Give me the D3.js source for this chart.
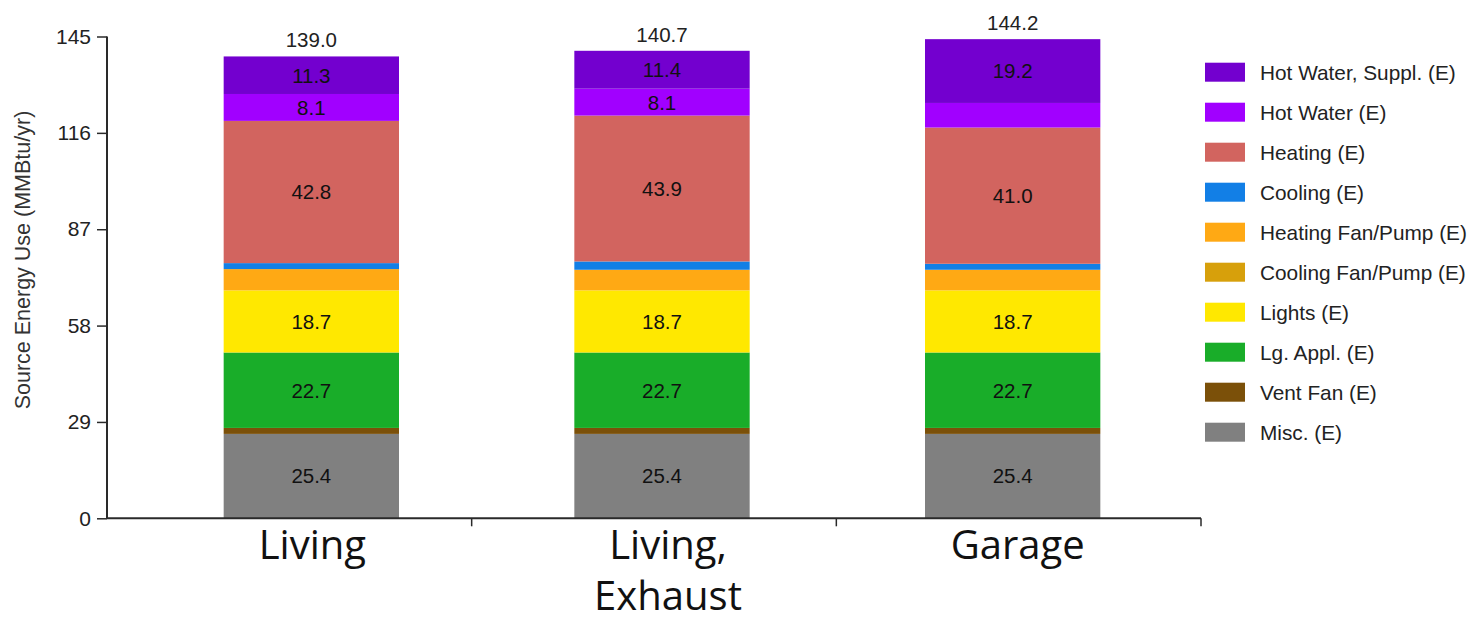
<!DOCTYPE html>
<html>
<head>
<meta charset="utf-8">
<script src="https://cdn.jsdelivr.net/npm/d3@7"></script>
<style>
  html, body { margin: 0; padding: 0; background: #fff; }
  svg { display: block; }
</style>
</head>
<body>
<svg id="chart" width="1480" height="622"></svg>
<script>
// Source energy use by end use, for three duct locations (MMBtu/yr)
const categories = ["Living", "Living, Exhaust", "Garage"];
const categoryLines = [["Living"], ["Living,", "Exhaust"], ["Garage"]];

// End uses, bottom of stack first
const endUses = [
  "Misc. (E)", "Vent Fan (E)", "Lg. Appl. (E)", "Lights (E)",
  "Cooling Fan/Pump (E)", "Heating Fan/Pump (E)", "Cooling (E)",
  "Heating (E)", "Hot Water (E)", "Hot Water, Suppl. (E)"
];
const colors = [
  "#808080", "#7b5009", "#19ad29", "#ffe800",
  "#d7a00b", "#ffa914", "#127fe6",
  "#d2645f", "#a100ff", "#7300cf"
];

// Values per end use, one per category
const misc        = [25.4, 25.4, 25.4];
const ventFan     = [1.8, 1.8, 1.8];
const lgAppl      = [22.7, 22.7, 22.7];
const lights      = [18.7, 18.7, 18.7];
const coolingFan  = [0.0, 0.0, 0.0];
const heatingFan  = [6.4, 6.2, 6.2];
const cooling     = [1.8, 2.5, 1.8];
const heating     = [42.8, 43.9, 41.0];
const hotWater    = [8.1, 8.1, 7.4];
const hotWaterSup = [11.3, 11.4, 19.2];

const yTicks = [0, 29, 58, 87, 116, 145];
const yMax = 145;
const labelMin = 8; // segments smaller than this are left unlabelled

const seriesValues = [misc, ventFan, lgAppl, lights, coolingFan, heatingFan, cooling, heating, hotWater, hotWaterSup];

const rows = categories.map((c, i) => {
  const r = { category: c };
  endUses.forEach((u, k) => { r[u] = seriesValues[k][i]; });
  return r;
});

const svg = d3.select("#chart");
const font = "'Liberation Sans', Arial, sans-serif";

const plot = { left: 107, right: 1201, top: 36.5, bottom: 518.3 };

const y = d3.scaleLinear().domain([0, yMax]).range([plot.bottom, plot.top]);

// category bands along the axis (ticks sit between the bands)
const xAxisBand = d3.scaleBand().domain(categories).range([plot.left, plot.right]);
// bar placement
const xBar = d3.scaleBand().domain(categories).range([136, 1188]).paddingInner(0.5).paddingOuter(0.25);

const stack = d3.stack().keys(endUses);
const layers = stack(rows);
const color = d3.scaleOrdinal().domain(endUses).range(colors);

// bars
const g = svg.append("g");
layers.forEach(layer => {
  g.selectAll(null)
    .data(layer)
    .join("rect")
    .attr("x", d => xBar(d.data.category))
    .attr("width", xBar.bandwidth())
    .attr("y", d => y(d[1]))
    .attr("height", d => Math.max(0, y(d[0]) - y(d[1])))
    .attr("fill", color(layer.key));
});

// segment value labels
layers.forEach(layer => {
  g.selectAll(null)
    .data(layer.filter(d => (d[1] - d[0]) >= labelMin))
    .join("text")
    .attr("x", d => xBar(d.data.category) + xBar.bandwidth() / 2)
    .attr("y", d => (y(d[0]) + y(d[1])) / 2)
    .attr("dy", "0.36em")
    .attr("text-anchor", "middle")
    .attr("font-family", font)
    .attr("font-size", 20.5)
    .attr("fill", "#111")
    .text(d => (d[1] - d[0]).toFixed(1));
});

// totals above bars
const totals = rows.map(r => d3.sum(endUses, u => r[u]));
g.selectAll(null)
  .data(categories)
  .join("text")
  .attr("x", (c) => xBar(c) + xBar.bandwidth() / 2)
  .attr("y", (c, i) => y(totals[i]) - 9)
  .attr("text-anchor", "middle")
  .attr("font-family", font)
  .attr("font-size", 20.5)
  .attr("fill", "#222")
  .text((c, i) => totals[i].toFixed(1));

// y axis
const axisColor = "#2a2a2a";
const yAxis = svg.append("g").attr("transform", `translate(${plot.left},0)`)
  .call(d3.axisLeft(y).tickValues(yTicks).tickSize(10).tickPadding(6).tickFormat(d3.format("d")));
yAxis.select(".domain").attr("stroke", axisColor).attr("stroke-width", 2)
  .attr("d", `M0,${plot.top}V${plot.bottom}`);
yAxis.selectAll(".tick line").attr("stroke", axisColor).attr("stroke-width", 1.5);
yAxis.selectAll(".tick text")
  .attr("font-family", font).attr("font-size", 21).attr("fill", "#222");

// x axis: line with ticks at band boundaries
const xg = svg.append("g");
xg.append("line")
  .attr("x1", plot.left).attr("x2", xAxisBand.range()[1])
  .attr("y1", plot.bottom).attr("y2", plot.bottom)
  .attr("stroke", axisColor).attr("stroke-width", 2);
xg.selectAll("line.tick")
  .data(categories.slice(1).concat([null]))
  .join("line")
  .attr("class", "tick")
  .attr("x1", d => d === null ? xAxisBand.range()[1] : xAxisBand(d))
  .attr("x2", d => d === null ? xAxisBand.range()[1] : xAxisBand(d))
  .attr("y1", plot.bottom).attr("y2", plot.bottom + 8)
  .attr("stroke", axisColor).attr("stroke-width", 1.5);

// category labels (wrapped over lines)
const catNudge = [1, 6, 5];
svg.selectAll("text.cat")
  .data(categories)
  .join("text")
  .attr("class", "cat")
  .attr("x", (c, i) => xBar(c) + xBar.bandwidth() / 2 + catNudge[i])
  .attr("y", 559)
  .attr("text-anchor", "middle")
  .attr("font-family", "'Open Sans', sans-serif")
  .attr("font-size", 40)
  .attr("fill", "#111")
  .each(function (c, i) {
    const t = d3.select(this);
    categoryLines[i].forEach((line, j) => {
      t.append("tspan")
        .attr("x", t.attr("x"))
        .attr("dy", j === 0 ? 0 : 51)
        .text(line);
    });
  });

// y axis title
svg.append("text")
  .attr("transform", `translate(30,260) rotate(-90)`)
  .attr("text-anchor", "middle")
  .attr("font-family", font)
  .attr("font-size", 21.5)
  .attr("fill", "#333")
  .text("Source Energy Use (MMBtu/yr)");

// legend, top entry is the top of the stack
const legendOrder = endUses.slice().reverse();
const legend = svg.append("g").attr("transform", "translate(1205,62.7)");
const item = legend.selectAll("g")
  .data(legendOrder)
  .join("g")
  .attr("transform", (d, i) => `translate(0,${i * 40})`);
item.append("rect")
  .attr("width", 40).attr("height", 19)
  .attr("fill", d => color(d));
item.append("text")
  .attr("x", 55).attr("y", 9.5).attr("dy", "0.36em")
  .attr("font-family", font)
  .attr("font-size", 20.8)
  .attr("fill", "#222")
  .text(d => d);
</script>
</body>
</html>
